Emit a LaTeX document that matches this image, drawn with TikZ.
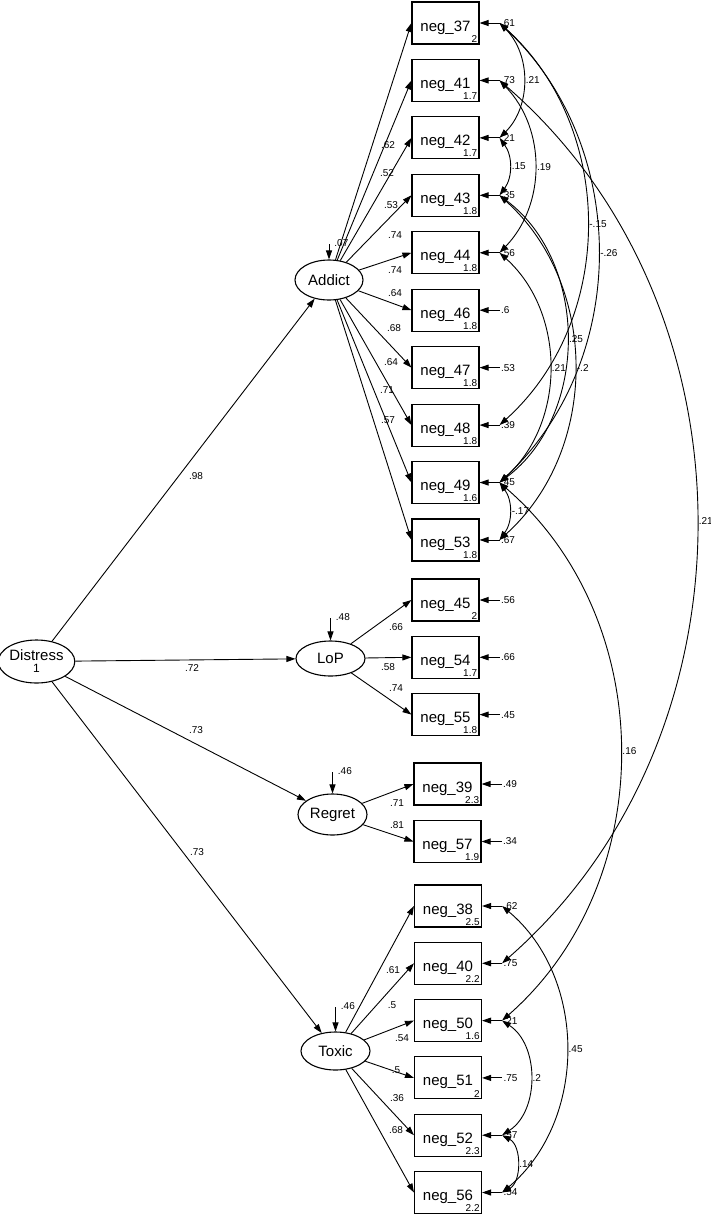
\documentclass[tikz,border=0pt]{standalone}
\usepackage{fontspec}
\setmainfont{Liberation Sans}
\usetikzlibrary{shapes.geometric,arrows.meta,positioning}

\begin{document}
\begin{tikzpicture}[x=1pt, y=-1pt, line width=0.9pt, >={Triangle[length=9pt,width=6pt]}]
    \tikzstyle{indicator}=[draw, rectangle, line width=1.1pt, minimum width=67pt, minimum height=42pt, inner sep=2pt, text height=16pt, text depth=0pt, font=\fontsize{15}{15}\selectfont]
    \tikzstyle{latent}=[draw, ellipse, line width=1.1pt, minimum width=68pt, minimum height=38pt, inner sep=0pt, font=\fontsize{15}{15}\selectfont]
    \tikzstyle{num}=[inner sep=1pt, font=\fontsize{10}{10}\selectfont]
    \tikzstyle{icpt}=[num, anchor=south east, xshift=-1pt, yshift=1pt]
    \tikzstyle{covlbl}=[num, midway, right, inner sep=2pt]
    \tikzstyle{cov}=[<->]
    \useasboundingbox (0,0) rectangle (711,1216);

    % Latent variables
    \node[latent, minimum width=69pt, minimum height=43pt, align=center] (Distress) at (36.5,661.5) {Distress\\[-3pt]{\fontsize{12}{12}\selectfont 1}};
    \node[latent, minimum height=40pt] (Addict) at (329,280) {Addict};
    \node[latent, minimum width=69pt, minimum height=35pt] (LoP) at (330.5,658.5) {LoP};
    \node[latent, minimum width=69pt, minimum height=41pt] (Regret) at (332.5,814.5) {Regret};
    \node[latent, minimum width=69pt] (Toxic) at (335.5,1051) {Toxic};

    % Disturbances of the latent variables
    \foreach \lat/\x/\y/\val in {Addict/329/244/.07, LoP/330.5/618/.48, Regret/332.5/772/.46, Toxic/335.5/1007/.46}
    {
        \coordinate (z\lat) at (\x,\y);
        \draw[->] (z\lat) -- (\lat.north);
        \node[num, anchor=west] (zv\lat) at ([xshift=4pt,yshift=1pt]z\lat) {\val};
    }

    % Paths from Distress
    \draw[->] (Distress) -- (Addict);
    \draw[->] (Distress) -- (LoP);
    \draw[->] (Distress) -- (Regret);
    \draw[->] (Distress) -- (Toxic);
    \foreach \x/\y/\val [count=\i] in {196/476/.98, 192/668/.72, 196/730/.73, 197/852/.73}
        \node[num] (ld-\i) at (\x,\y) {\val};

    % Indicators of Addict
    \foreach \name/\ic/\err [count=\i from 0] in {37/2/.61, 41/1.7/.73, 42/1.7/.21, 43/1.8/.35, 44/1.8/.56, 46/1.8/.6, 47/1.8/.53, 48/1.8/.39, 49/1.6/.45, 53/1.8/.67}
    {
        \node[indicator, label={[icpt]south east:\ic}] (b\name) at ({445.5},{23+57.44*\i}) {neg\_\name};
        \coordinate (e\name) at ([xshift=20pt]b\name.east);
        \draw[->] (e\name) -- (b\name.east);
        \node[num, anchor=west] (v\name) at (e\name) {\err};
        \draw[->] (Addict) -- (b\name.west);
    }

    % Indicators of LoP
    \foreach \name/\ic/\err [count=\i from 0] in {45/2/.56, 54/1.7/.66, 55/1.8/.45}
    {
        \node[indicator, label={[icpt]south east:\ic}] (b\name) at ({445.5},{600+57.3*\i}) {neg\_\name};
        \coordinate (e\name) at ([xshift=20pt]b\name.east);
        \draw[->] (e\name) -- (b\name.east);
        \node[num, anchor=west] (v\name) at (e\name) {\err};
        \draw[->] (LoP) -- (b\name.west);
    }

    % Indicators of Regret
    \foreach \name/\ic/\err [count=\i from 0] in {39/2.3/.49, 57/1.9/.34}
    {
        \node[indicator, label={[icpt]south east:\ic}] (b\name) at ({447.5},{784+57.5*\i}) {neg\_\name};
        \coordinate (e\name) at ([xshift=20pt]b\name.east);
        \draw[->] (e\name) -- (b\name.east);
        \node[num, anchor=west] (v\name) at (e\name) {\err};
        \draw[->] (Regret) -- (b\name.west);
    }

    % Indicators of Toxic
    \foreach \name/\ic/\err [count=\i from 0] in {38/2.5/.62, 40/2.2/.75, 50/1.6/.21, 51/2/.75, 52/2.3/.57, 56/2.2/.54}
    {
        \node[indicator, label={[icpt]south east:\ic}] (b\name) at ({448},{906+57.3*\i}) {neg\_\name};
        \coordinate (e\name) at ([xshift=20pt]b\name.east);
        \draw[->] (e\name) -- (b\name.east);
        \node[num, anchor=west] (v\name) at (e\name) {\err};
        \draw[->] (Toxic) -- (b\name.west);
    }

    % Loadings
    \foreach \x/\y/\val [count=\i] in {388/145/.62, 387/173/.52, 391/205/.53, 395/235/.74, 395/270/.74, 395/293/.64, 394/328/.68, 391/362/.64, 387/390/.71, 388/420/.57,
        396/627/.66, 388/667/.58, 396/688/.74, 397/803/.71, 397/825/.81,
        393/970/.61, 392/1005/.5, 402/1038/.54, 396/1070/.5, 397/1098/.36, 396/1130/.68}
        \node[num] (l-\i) at (\x,\y) {\val};

    % Covariances between errors
    \draw[cov] (e37) to[bend left=45] node[covlbl] (c1) {.21} (e42);
    \draw[cov] (e42) to[bend left=36] node[covlbl] (c2) {.15} (e43);
    \draw[cov] (e41) to[bend left=44] node[covlbl] (c3) {.19} (e44);
    \draw[cov] (e37) to[bend left=48] node[covlbl] (c4) {-.15} (e48);
    \draw[cov] (e37) to[bend left=47] node[covlbl] (c5) {-.26} (e49);
    \draw[cov] (e43) to[bend left=53] node[covlbl] (c6) {.25} (e49);
    \draw[cov] (e44) to[bend left=48] node[covlbl] (c7) {.21} (e49);
    \draw[cov] (e43) to[bend left=48] node[covlbl] (c8) {-.2} (e53);
    \draw[cov] (e49) to[bend left=36] node[covlbl] (c9) {-.17} (e53);
    \draw[cov] (e41) to[bend left=49] node[covlbl] (c10) {.21} (e40);
    \draw[cov] (e49) to[bend left=49] node[covlbl] (c11) {.16} (e50);
    \draw[cov] (e38) to[bend left=50] node[covlbl] (c12) {.45} (e56);
    \draw[cov] (e50) to[bend left=57] node[covlbl] (c13) {.2} (e52);
    \draw[cov] (e52) to[bend left=62] node[covlbl] (c14) {.14} (e56);
\end{tikzpicture}
\end{document}
